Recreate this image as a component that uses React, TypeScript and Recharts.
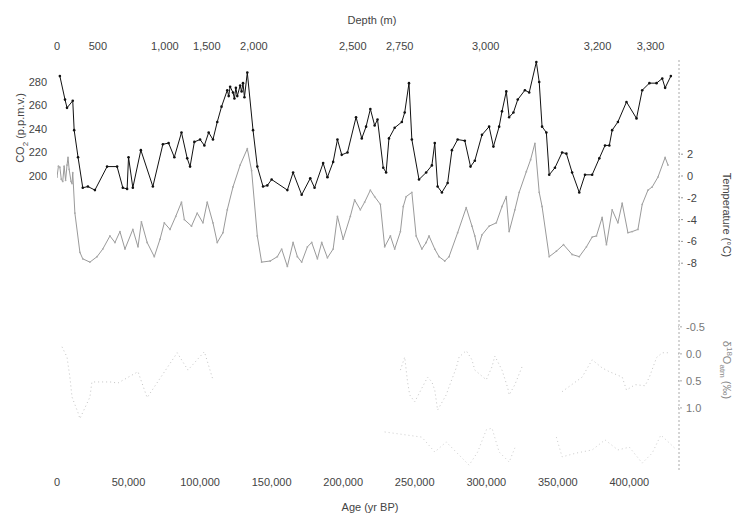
import React from "react"
import { ComposedChart, Line, XAxis, YAxis } from "recharts"

// CO2 (p.p.m.v.) against age (yr BP)
const co2Ages = [
  2000, 5600, 7000, 11000, 12000, 14700, 18000, 21600, 26500, 35000, 42000, 46000, 49000, 50000, 53000,
  58600, 67000, 74000, 78000, 82000, 87000, 91000, 93000, 96000, 100000, 103000, 106000, 109000, 112000,
  115000, 119000, 120000, 121000, 123000, 124000, 125000, 126000, 128000, 129000, 130000, 131000, 133000,
  137000, 140000, 144000, 147000, 150000, 161000, 165000, 171000, 177000, 180000, 186000, 189000, 193000,
  196000, 199000, 203000, 209000, 213000, 216000, 219000, 222000, 224000, 228000, 230000, 232000, 236000,
  241000, 243000, 246000, 248000, 253000, 258000, 262000, 264000, 266000, 269000, 273000, 276000, 280000,
  285000, 289000, 292000, 297000, 302000, 305000, 309000, 311000, 314000, 316000, 319000, 322000, 327000,
  330000, 335000, 337000, 339000, 342000, 344000, 348000, 353000, 356000, 360000, 365000, 369000, 374000,
  379000, 383000, 386000, 388000, 392000, 398000, 405000, 409000, 414000, 419000, 423000, 425000, 429000,
]
const co2Values = [
  285, 265, 258, 264, 239, 216, 190, 191, 188, 208, 208, 190, 189, 216, 190,
  222, 191, 227, 228, 216, 237, 215, 208, 229, 231, 226, 237, 231, 246,
  259, 273, 268, 276, 271, 266, 275, 268, 277, 272, 279, 267, 288,
  239, 208, 191, 192, 197, 188, 203, 184, 198, 190, 211, 199, 212,
  231, 218, 220, 250, 232, 242, 257, 243, 248, 207, 203, 232, 241,
  246, 254, 279, 231, 197, 203, 209, 228, 191, 186, 194, 222, 231,
  230, 208, 213, 235, 242, 225, 242, 255, 272, 250, 254, 265, 273,
  271, 297, 280, 242, 237, 201, 207, 220, 219, 203, 186, 201, 201,
  215, 226, 226, 239, 246, 263, 249, 273, 279, 279, 283, 275, 285,
]

// Temperature anomaly (°C)
const tempAges = [
  0, 1000, 2000, 3000, 4000, 5000, 6000, 7000, 7700, 8500, 9800, 10500, 11000, 12500, 16000, 18000, 23000,
  28000, 32000, 37000, 40500, 44000, 47500, 53000, 56600, 59000, 63000, 68000, 72000, 75000, 79000, 83000,
  87000, 89000, 94000, 98000, 102000, 105000, 109000, 112000, 116000, 119000, 123000, 128000, 133000,
  136000, 140000, 143000, 149000, 154000, 157000, 161000, 165000, 168000, 171000, 175000, 178000, 182000,
  185000, 189000, 193000, 196000, 200000, 205000, 208000, 212000, 215000, 219000, 222000, 226000, 229000,
  233000, 236000, 240000, 242000, 244000, 248000, 251000, 255000, 258000, 260000, 264000, 267000, 271000,
  274000, 280000, 286000, 290000, 292000, 294000, 297000, 302000, 307000, 311000, 314000, 316000, 320000,
  323000, 328000, 331000, 334000, 337000, 339000, 344000, 349000, 354000, 360000, 365000, 370000, 374000,
  377000, 381000, 384000, 388000, 392000, 395000, 399000, 402000, 406000, 409000, 413000, 416000, 420000,
  425000, 427000,
]
const tempValues = [
  -0.1, 0.9, 0.8, -0.3, -0.5, 0.9, -0.4, 1.0, 1.7, 0.6, -0.5, -0.7, 0.3, -3.4, -7, -7.6, -7.9,
  -7.4, -6.7, -5.5, -6.1, -5.1, -6.7, -4.9, -6.5, -4.2, -6.1, -7.4, -5.8, -4.3, -4.9, -3.7,
  -2.4, -4, -4.6, -3.4, -4.3, -2.4, -4.3, -6.1, -5.2, -3.1, -1, 1, 2.5,
  0.5, -5.5, -7.9, -7.8, -7.4, -6.7, -8.3, -6.1, -7.4, -7.9, -6.5, -6.1, -7.6,
  -6.1, -7.5, -6.7, -3.7, -5.8, -3.7, -2.2, -3.1, -2.4, -1.3, -1.9, -2.6, -6.5,
  -5.5, -6.7, -5.1, -2.8, -1.9, -1.5, -5.5, -6.7, -6.1, -5.5, -6.7, -7.4, -7.8,
  -7.4, -5.2, -2.9, -4.6, -5.5, -6.7, -5.4, -4.6, -4.3, -2.8, -1.9, -5.1, -3.1,
  -1.5, 0.4, 1.5, 3.0, -1.5, -2.8, -7.4, -6.9, -6.3, -7.2, -7.4, -6.5, -5.6,
  -5.5, -3.8, -6.3, -3.1, -4.3, -2.5, -5.2, -5.1, -4.9, -2.6, -1.3, -1, -0.1,
  1.7, 1.0,
]

// δ18O of atmospheric O2 (‰), faint in the scan; null = gap
const d18Ages = [
  3500, 7000, 9000, 10500, 14700, 16000, 23000, 24400, 37000, 42600, 56600, 63000, 84000, 91500, 103000,
  109000, 170000, 240000, 243000, 245000, 246500, 250000, 259000, 262000, 264000, 266000, 272000, 274000,
  279000, 281000, 286000, 290000, 292000, 300000, 304000, 306000, 311000, 315000, 316000, 320000, 325000,
  340000, 353000, 367000, 374000, 381000, 386000, 395000, 398000, 404000, 411000, 414000, 419000, 423000,
  427000,
]
const d18Values = [
  -0.13, 0.06, 0.43, 0.8, 1.09, 1.2, 0.8, 0.52, 0.52, 0.54, 0.33, 0.81, -0.02, 0.3, -0.04,
  0.48, null, 0.3, 0.06, 0.52, 0.76, 0.89, 0.43, 0.52, 0.67, 1.04, 0.76, 0.61,
  0.26, 0.06, -0.06, 0.11, 0.3, 0.48, 0.24, 0.04, 0.3, 0.63, 0.76, 0.57, 0.24,
  null, 0.7, 0.43, 0.11, 0.26, 0.33, 0.43, 0.67, 0.57, 0.59, 0.43, 0.07, -0.02,
  -0.02,
]

// insolation curve at the bottom (no scale printed), W m-2
const insAges = [
  229000, 255000, 264000, 272000, 288000, 294000, 300000, 304000, 309000, 316000, 320000, 335000, 349000,
  353000, 363000, 374000, 383000, 392000, 400000, 409000, 416000, 422000, 428000, 433000,
]
const insValues = [
  540, 525, 482, 511, 444, 482, 546, 551, 482, 453, 494, null, 525,
  468, 479, 488, 517, 488, 496, 450, 479, 531, 508, 488,
]

const ageTicks = [0, 50000, 100000, 150000, 200000, 250000, 300000, 350000, 400000]
// depth labels sit at these ages on the top axis
const depthTickAges = [0, 28600, 75400, 104700, 137600, 206700, 239500, 299600, 377800, 414800]
const depthLabels = ["0", "500", "1,000", "1,500", "2,000", "2,500", "2,750", "3,000", "3,200", "3,300"]

const co2Ticks = [200, 220, 240, 260, 280]
const tempTicks = [-8, -6, -4, -2, 0, 2]
const d18Ticks = [-0.5, 0, 0.5, 1.0]

const co2Data = co2Ages.map((age, i) => ({ age, co2: co2Values[i] }))
const tempData = tempAges.map((age, i) => ({ age, temp: tempValues[i] }))
const d18Data = d18Ages.map((age, i) => ({ age, d18: d18Values[i] }))
const insData = insAges.map((age, i) => ({ age, ins: insValues[i] }))

const font = "'Liberation Sans', Arial, sans-serif"
const tickStyle = { fontSize: 11, fill: "#444", fontFamily: font }

const labelStyle: React.CSSProperties = {
  position: "absolute",
  fontFamily: font,
  fontSize: 11,
  color: "#444",
  whiteSpace: "nowrap",
}

export default function App() {
  return (
    <div style={{ position: "absolute", left: 0, top: 0, width: 744, height: 528, background: "#fff" }}>
      <ComposedChart width={744} height={528} margin={{ top: 30, right: 20, bottom: 28, left: 0 }}>
        <XAxis
          xAxisId="age"
          dataKey="age"
          type="number"
          domain={[0, 434000]}
          ticks={ageTicks}
          tickFormatter={(v) => v.toLocaleString("en-US")}
          tick={tickStyle}
          tickLine={false}
          axisLine={false}
          tickSize={0}
          tickMargin={8}
          height={30}
          allowDataOverflow
        />
        <XAxis
          xAxisId="depth"
          orientation="top"
          dataKey="age"
          type="number"
          domain={[0, 434000]}
          ticks={depthTickAges}
          tickFormatter={(v) => depthLabels[depthTickAges.indexOf(v)] ?? ""}
          tick={tickStyle}
          tickLine={false}
          axisLine={false}
          tickSize={0}
          tickMargin={10}
          height={30}
          allowDataOverflow
        />
        <YAxis
          yAxisId="co2"
          orientation="left"
          type="number"
          domain={[-50.2, 298.7]}
          ticks={co2Ticks}
          tick={tickStyle}
          tickLine={false}
          axisLine={false}
          tickMargin={4}
          width={57}
          allowDataOverflow
        />
        <YAxis
          yAxisId="d18"
          orientation="right"
          type="number"
          reversed
          domain={[-5.44, 2.15]}
          ticks={d18Ticks}
          tickFormatter={(v) => v.toFixed(1)}
          tick={{ ...tickStyle, fill: "#777" }}
          tickLine={{ stroke: "#aaa", strokeDasharray: "2 1" }}
          axisLine={false}
          tickSize={4}
          tickMargin={4}
          width={1}
          allowDataOverflow
        />
        <YAxis
          yAxisId="temp"
          orientation="right"
          type="number"
          domain={[-26.97, 10.64]}
          ticks={tempTicks}
          tick={tickStyle}
          tickLine={{ stroke: "#999", strokeDasharray: "2 1" }}
          axisLine={{ stroke: "#aaa", strokeDasharray: "2 2" }}
          tickSize={4}
          tickMargin={4}
          width={45}
          allowDataOverflow
        />
        <YAxis yAxisId="ins" hide type="number" domain={[430, 1615]} allowDataOverflow />

        <Line
          xAxisId="age"
          yAxisId="ins"
          data={insData}
          dataKey="ins"
          type="linear"
          stroke="#cccccc"
          strokeWidth={1}
          strokeDasharray="1 3"
          dot={false}
          isAnimationActive={false}
        />
        <Line
          xAxisId="age"
          yAxisId="d18"
          data={d18Data}
          dataKey="d18"
          type="linear"
          stroke="#c4c4c4"
          strokeWidth={1}
          strokeDasharray="1 3"
          dot={false}
          isAnimationActive={false}
        />
        <Line
          xAxisId="age"
          yAxisId="temp"
          data={tempData}
          dataKey="temp"
          type="linear"
          stroke="#9a9a9a"
          strokeWidth={1}
          dot={{ r: 0.9, fill: "#aaa", stroke: "none" }}
          isAnimationActive={false}
        />
        <Line
          xAxisId="age"
          yAxisId="co2"
          data={co2Data}
          dataKey="co2"
          type="linear"
          stroke="#111"
          strokeWidth={1}
          dot={{ r: 1.3, fill: "#111", stroke: "none" }}
          isAnimationActive={false}
        />
        <Line
          xAxisId="depth"
          yAxisId="ins"
          data={[{ age: 0 }, { age: 434000 }]}
          dataKey="none"
          stroke="none"
          dot={false}
          legendType="none"
          isAnimationActive={false}
        />
      </ComposedChart>

      <div style={{ ...labelStyle, left: 372, top: 20, transform: "translate(-50%, -50%)" }}>Depth (m)</div>
      <div style={{ ...labelStyle, left: 370, top: 507, transform: "translate(-50%, -50%)" }}>Age (yr BP)</div>
      <div style={{ ...labelStyle, left: 22, top: 128, transform: "translate(-50%, -50%) rotate(-90deg)" }}>
        CO<sub style={{ fontSize: 8 }}>2</sub> (p.p.m.v.)
      </div>
      <div style={{ ...labelStyle, left: 727, top: 215, transform: "translate(-50%, -50%) rotate(90deg)" }}>
        Temperature (°C)
      </div>
      <div
        style={{ ...labelStyle, left: 726, top: 370, color: "#888", transform: "translate(-50%, -50%) rotate(90deg)" }}
      >
        δ<sup style={{ fontSize: 8 }}>18</sup>O<sub style={{ fontSize: 8 }}>atm</sub> (‰)
      </div>
    </div>
  )
}
